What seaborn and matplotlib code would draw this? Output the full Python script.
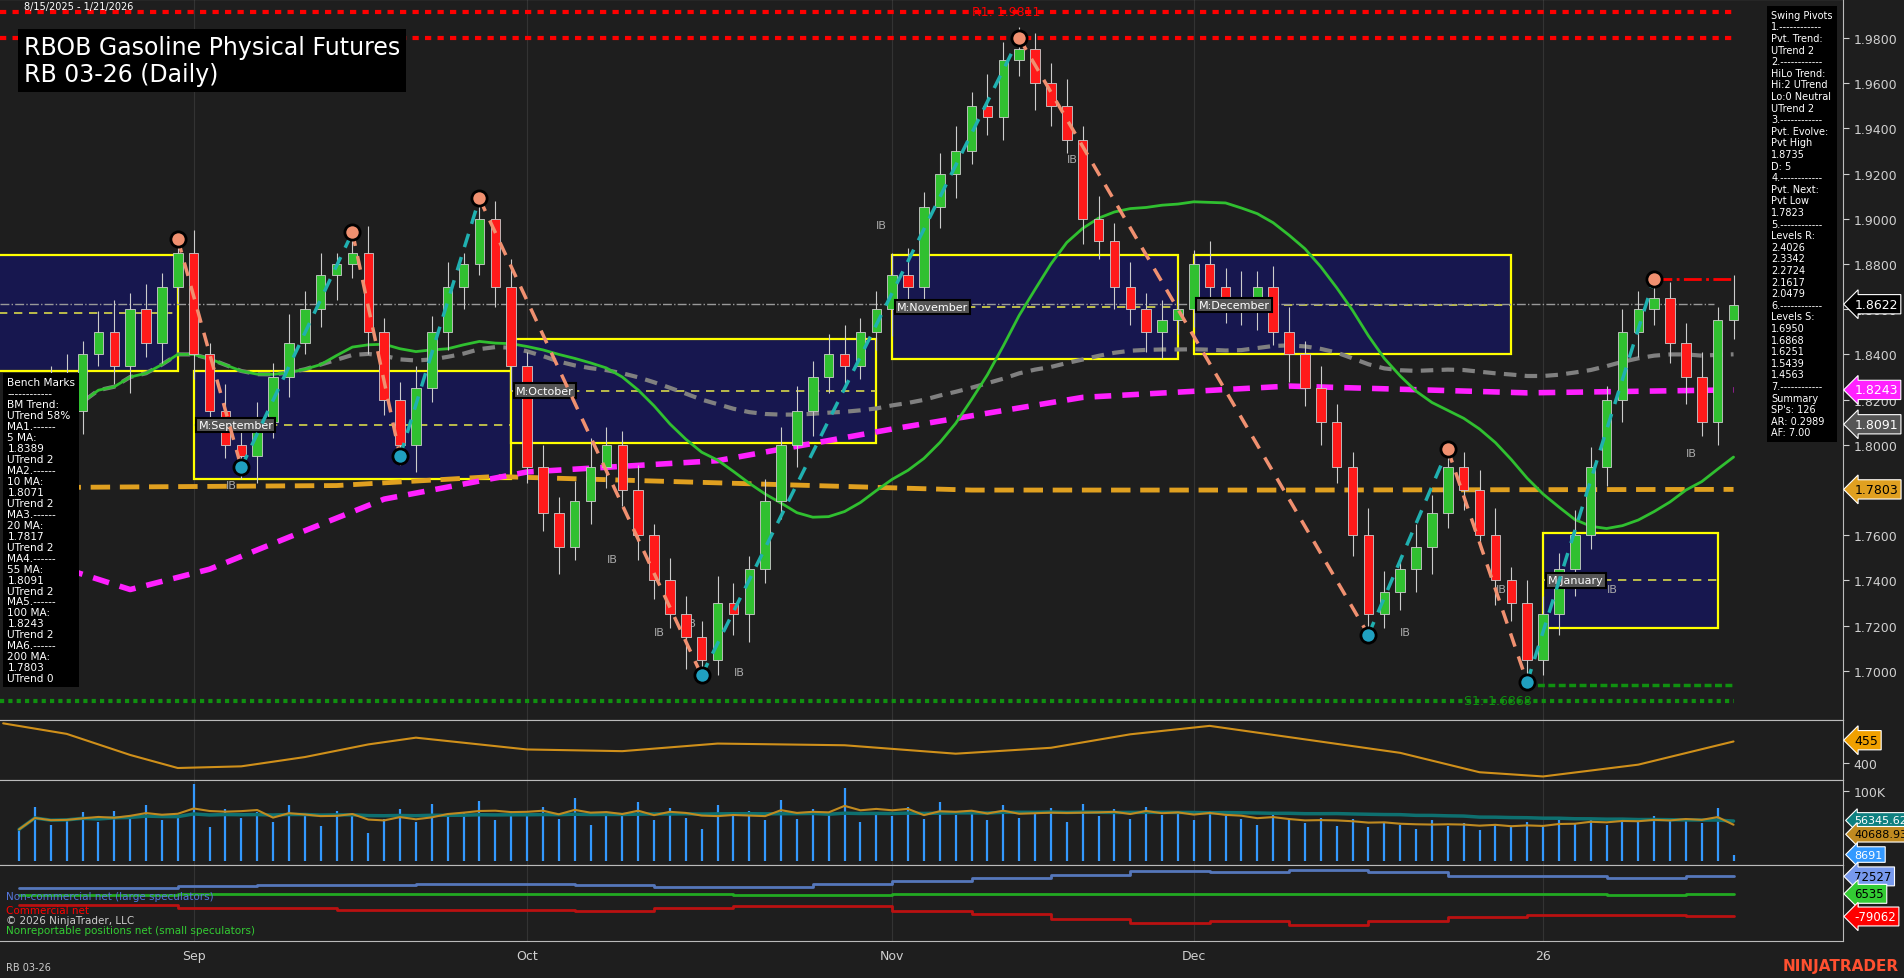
import matplotlib
matplotlib.use("Agg")
import matplotlib.pyplot as plt
import seaborn as sns
import pandas as pd
import numpy as np
from matplotlib.patches import Rectangle

# ---- data ----
closes = [1.800, 1.810, 1.830, 1.815, 1.840, 1.850, 1.835, 1.860, 1.845, 1.870, 1.885,
          1.840, 1.815, 1.800, 1.795, 1.810, 1.830, 1.845, 1.860, 1.875, 1.880, 1.885,
          1.850, 1.820, 1.800, 1.825, 1.850, 1.870, 1.880, 1.900, 1.870, 1.835,
          1.790, 1.770, 1.755, 1.775, 1.790, 1.800, 1.780, 1.760, 1.740, 1.725, 1.715,
          1.705, 1.730, 1.725, 1.745, 1.775, 1.800, 1.815, 1.830, 1.840, 1.835, 1.850, 1.860,
          1.875, 1.870, 1.905, 1.920, 1.930, 1.950, 1.945, 1.970, 1.975, 1.960, 1.950,
          1.935, 1.900, 1.890, 1.870, 1.860, 1.850, 1.855, 1.860,
          1.880, 1.870, 1.865, 1.860, 1.870, 1.850, 1.840, 1.825, 1.810, 1.790, 1.760,
          1.725, 1.735, 1.745, 1.755, 1.770, 1.790, 1.780, 1.760, 1.740, 1.730, 1.705,
          1.725, 1.745, 1.760, 1.790, 1.820, 1.850, 1.860, 1.865, 1.845, 1.830, 1.810, 1.855, 1.862]
first_open = 1.790
wick_hi = [8, 12, 5, 10, 6, 9, 14, 7, 11, 6, 8, 10, 5, 12, 7, 9, 6, 13, 8, 10, 5, 9,
           12, 6, 8, 10, 7, 11, 5, 9, 8, 12, 6, 10, 7, 9, 13, 8, 6, 11, 5, 10, 8, 7,
           12, 9, 6, 10, 8, 11, 7, 9, 13, 6, 8, 10, 12, 7, 9, 11, 6, 14, 8, 10, 7, 9,
           12, 6, 10, 8, 11, 7, 9, 13, 6, 10, 8, 12, 7, 9, 11, 6, 10, 8, 7, 12, 9, 6,
           10, 8, 11, 7, 9, 12, 6, 10, 8, 7, 11, 9, 6, 10, 8, 12, 7, 9, 11, 6, 13]
wick_lo = [6, 9, 11, 7, 10, 5, 8, 12, 6, 9, 7, 11, 8, 6, 10, 12, 7, 9, 5, 8, 11, 6,
           10, 7, 9, 12, 6, 8, 10, 5, 9, 11, 7, 8, 12, 6, 10, 9, 7, 11, 8, 6, 14, 10,
           7, 9, 12, 6, 8, 10, 11, 7, 9, 6, 8, 12, 10, 7, 9, 11, 6, 8, 10, 7, 12, 9,
           6, 11, 8, 10, 7, 9, 12, 6, 8, 10, 11, 7, 9, 6, 12, 8, 10, 7, 9, 11, 6, 8,
           10, 12, 7, 9, 6, 11, 8, 10, 7, 9, 12, 6, 8, 10, 11, 7, 9, 12, 6, 10, 8]
month_ticks = [11, 32, 55, 74, 96]
month_labels = ["Sep", "Oct", "Nov", "Dec", "26"]

pivot_idx = [10, 14, 21, 24, 29, 43, 63, 85, 90, 95, 103]
pivot_px = [1.891, 1.790, 1.894, 1.795, 1.909, 1.698, 1.980, 1.716, 1.798, 1.695, 1.8735]

ma100_idx = [3, 7, 12, 18, 23, 32, 44, 55, 67, 80, 95, 108]
ma100_val = [1.745, 1.736, 1.745, 1.762, 1.776, 1.788, 1.793, 1.807, 1.821, 1.826, 1.823, 1.8243]
ma200_idx = [-1, 20, 30, 40, 60, 80, 108]
ma200_val = [1.781, 1.782, 1.786, 1.784, 1.780, 1.780, 1.7803]

# monthly boxes: start, end, low, high
box_start = [-2, 11, 31, 55, 74, 96]
box_end = [10, 31, 54, 73, 94, 107]
box_low = [1.8325, 1.785, 1.801, 1.838, 1.840, 1.719]
box_high = [1.884, 1.8325, 1.847, 1.884, 1.884, 1.761]
box_names = ["", "M:September", "M:October", "M:November", "M:December", "M:January"]

osc_idx = [-1, 3, 7, 10, 14, 18, 22, 25, 29, 32, 38, 44, 52, 59, 65, 70, 75, 81, 87, 92, 96, 102, 108]
osc_val = [495, 470, 420, 389, 393, 415, 445, 461, 445, 433, 429, 447, 443, 423, 437, 469, 489, 457, 425, 379, 369, 397, 452]

volume_k = [45, 78, 52, 60, 70, 55, 72, 66, 80, 58, 62, 110, 48, 75, 62, 70, 55, 80, 66, 50, 72, 68,
            40, 60, 74, 56, 82, 64, 70, 86, 58, 72, 66, 78, 60, 90, 52, 70, 64, 84, 58, 76,
            62, 45, 80, 66, 72, 58, 88, 60, 74, 68, 105, 56, 70, 64, 78, 60, 84, 66, 72, 58,
            80, 62, 70, 76, 56, 82, 64, 74, 60, 78, 66, 70, 58, 72, 64, 60, 52, 66, 58, 54,
            62, 50, 60, 48, 56, 52, 46, 58, 50, 54, 44, 52, 48, 56, 50, 58, 54, 62, 52, 60,
            56, 64, 58, 62, 54, 76, 8.7]

cot_idx = [0, 5, 10, 15, 20, 25, 30, 35, 40, 45, 50, 55, 60, 65, 70, 75, 80, 85, 90, 95, 100, 105, 108]
cot_large = [29, 29, 35, 41, 41, 45, 45, 41, 32, 32, 45, 54, 66, 79, 92, 88, 98, 88, 73, 73, 66, 72.5, 72.5]
cot_small = [4, 4, 6.5, 6.5, 6.5, 6.5, 6.5, 5, 5, 3, 3, 6.5, 6.5, 6.5, 6.5, 5, 6.5, 6.5, 5, 5, 3, 6.5, 6.5]
cot_comm = [-36, -36, -46, -46, -53, -56, -53, -59, -46, -40, -40, -59, -68, -88, -103, -97, -112, -97, -82, -75, -75, -79, -79]

# ---- derived frame ----
n = len(closes)
df = pd.DataFrame({"idx": np.arange(n), "close": closes})
df["open"] = [first_open] + closes[:-1]
df["high"] = df[["open", "close"]].max(axis=1) + np.array(wick_hi) / 1000
df["low"] = df[["open", "close"]].min(axis=1) - np.array(wick_lo) / 1000
df["ma20"] = df["close"].rolling(20, min_periods=1).mean()
df["ma55"] = df["close"].rolling(55, min_periods=1).mean()
df["vol"] = np.array(volume_k) * 1000
df["vma"] = df["vol"].rolling(5, min_periods=1).mean()
df["vma2"] = df["vol"].rolling(40, min_periods=1).mean()

BG = "#1e1e1e"
sns.set_style("dark", {"axes.facecolor": BG, "figure.facecolor": BG})
plt.rcParams["font.family"] = ["DejaVu Sans"]
TXT = "#d0d0d0"

fig = plt.figure(figsize=(19.04, 9.79), dpi=100)
W = 0.968
ax = fig.add_axes([0, 0.264, W, 0.736])
ax2 = fig.add_axes([0, 0.202, W, 0.062], sharex=ax)
ax3 = fig.add_axes([0, 0.115, W, 0.087], sharex=ax)
ax4 = fig.add_axes([0, 0.038, W, 0.077], sharex=ax)
XL = (-1.2, 114.9)

for a in (ax, ax2, ax3, ax4):
    a.set_facecolor(BG)
    a.yaxis.tick_right()
    a.tick_params(colors=TXT, labelsize=9, length=4)
    for s in a.spines.values():
        s.set_color("#bbbbbb")
    a.spines["left"].set_visible(False)
    for t in month_ticks:
        a.axvline(t, color="#333333", lw=0.8, zorder=0)
    a.tick_params(axis="x", labelbottom=False, length=0)

# ---- main price panel ----
ax.set_xlim(*XL)
ax.set_ylim(1.6785, 1.9972)
ax.set_yticks(np.arange(1.70, 1.99, 0.02))
ax.set_yticklabels([f"{v:.4f}" for v in np.arange(1.70, 1.99, 0.02)])

for i in range(len(box_start)):
    ax.add_patch(Rectangle((box_start[i], box_low[i]), box_end[i] - box_start[i], box_high[i] - box_low[i],
                           facecolor="#17174f", edgecolor="#ffff00", lw=1.6, zorder=1))
    mid = (box_low[i] + box_high[i]) / 2
    ax.hlines(mid, box_start[i], box_end[i], colors="#d8d84a", linestyles=(0, (5, 4)), lw=1.2, zorder=1)
    if box_names[i]:
        ax.text(box_start[i] + 0.3, mid, box_names[i], fontsize=8, color="white", va="center", zorder=6,
                bbox=dict(facecolor="#555555", edgecolor="black", lw=1.5, pad=1.5))

ax.axhline(1.8622, color="#999999", ls="-.", lw=1, xmax=0.93, zorder=2)
ax.hlines([1.9915, 1.980], -1.2, 108, colors="red", linestyles=(0, (1.5, 1.5)), lw=3, zorder=2)
ax.text(60, 1.9915, "R1: 1.9811", color="red", fontsize=9, va="center")
ax.hlines(1.6868, -1.2, 108, colors="#109010", linestyles=(0, (1, 1)), lw=3, zorder=2)
ax.hlines(1.694, 95, 108, colors="#109010", linestyles=(0, (2, 1)), lw=2.5, zorder=2)
ax.text(91, 1.6868, "S1: 1.6868", color="#109010", fontsize=9, va="center")
ax.hlines(1.8735, 103, 108, colors="red", linestyles="-.", lw=2, zorder=2)

sns.lineplot(x=ma200_idx, y=ma200_val, ax=ax, color="#e0a020", lw=3.5, zorder=3)
ax.lines[-1].set_linestyle((0, (4, 2)))
sns.lineplot(x=ma100_idx, y=ma100_val, ax=ax, color="#ff20ff", lw=4, zorder=3)
ax.lines[-1].set_linestyle((0, (3, 2)))
sns.lineplot(data=df, x="idx", y="ma55", ax=ax, color="#808080", lw=3, zorder=3)
ax.lines[-1].set_linestyle((0, (3, 2)))
sns.lineplot(data=df, x="idx", y="ma20", ax=ax, color="#30c030", lw=2, zorder=3)

up = df["close"] >= df["open"]
ax.vlines(df["idx"], df["low"], df["high"], colors="#cccccc", lw=0.8, zorder=4)
ax.bar(df["idx"][up], (df["close"] - df["open"])[up].clip(lower=0.002), bottom=df["open"][up],
       width=0.6, color="#30c030", edgecolor="#cccccc", lw=0.6, zorder=5)
ax.bar(df["idx"][~up], (df["open"] - df["close"])[~up], bottom=df["close"][~up],
       width=0.6, color="#ff1a1a", edgecolor="#cccccc", lw=0.6, zorder=5)

for k in range(len(pivot_idx) - 1):
    c = "#20b0b0" if pivot_px[k + 1] > pivot_px[k] else "#f09070"
    ax.plot(pivot_idx[k:k + 2], pivot_px[k:k + 2], color=c, lw=2.5, ls=(0, (4, 3)), zorder=6)
for k in range(len(pivot_idx)):
    hi = k % 2 == 0
    ax.scatter(pivot_idx[k], pivot_px[k], s=120, color="#f09070" if hi else "#20a0c0",
               edgecolor="black", lw=2, zorder=7)
for xi, yi in [(54, 1.896), (66, 1.925), (13, 1.781), (37, 1.748), (40, 1.716), (42, 1.720), (45, 1.698),
               (87, 1.716), (100, 1.735), (105, 1.795), (93, 1.735)]:
    ax.text(xi, yi, "IB", color="#aaaaaa", fontsize=8)

ax.text(0.3, 1.994, "8/15/2025 - 1/21/2026", fontsize=7, color="white", va="center")
ax.text(0.3, 1.970, "RBOB Gasoline Physical Futures\nRB 03-26 (Daily)", fontsize=17, color="white", va="center",
        linespacing=1.15, bbox=dict(facecolor="black", edgecolor="none", pad=4), zorder=10)

swing = ("Swing Pivots\n1.------------\nPvt. Trend:\nUTrend 2\n2.------------\nHiLo Trend:\nHi:2 UTrend\n"
         "Lo:0 Neutral\nUTrend 2\n3.------------\nPvt. Evolve:\nPvt High\n1.8735\nD: 5\n4.------------\n"
         "Pvt. Next:\nPvt Low\n1.7823\n5.------------\nLevels R:\n2.4026\n2.3342\n2.2724\n2.1617\n2.0479\n"
         "6.------------\nLevels S:\n1.6950\n1.6868\n1.6251\n1.5439\n1.4563\n7.------------\nSummary\n"
         "SP's: 126\nAR: 0.2989\nAF: 7.00")
ax.text(0.961, 0.985, swing, transform=ax.transAxes, fontsize=7.0, color="white", va="top", linespacing=1.2,
        bbox=dict(facecolor="black", edgecolor="none", pad=3), zorder=10)
bench = ("Bench Marks\n------------\nBM Trend:\nUTrend 58%\nMA1.------\n5 MA:\n1.8389\nUTrend 2\nMA2.------\n"
         "10 MA:\n1.8071\nUTrend 2\nMA3.------\n20 MA:\n1.7817\nUTrend 2\nMA4.------\n55 MA:\n1.8091\n"
         "UTrend 2\nMA5.------\n100 MA:\n1.8243\nUTrend 2\nMA6.------\n200 MA:\n1.7803\nUTrend 0")
ax.text(0.004, 0.475, bench, transform=ax.transAxes, fontsize=7.6, color="white", va="top", linespacing=1.12,
        bbox=dict(facecolor="black", edgecolor="none", pad=3), zorder=10)

def tag(a, y, txt, fc, tc="black", fs=9):
    a.annotate(txt, xy=(1.0, y), xycoords=("axes fraction", "data"), xytext=(8, 0), textcoords="offset points",
               fontsize=fs, color=tc, va="center", ha="left", annotation_clip=False,
               bbox=dict(boxstyle="larrow,pad=0.25", facecolor=fc, edgecolor="white", lw=0.8))

tag(ax, 1.8622, "1.8622", "black", "white")
tag(ax, 1.8243, "1.8243", "#ff20ff", "white")
tag(ax, 1.8091, "1.8091", "#555555", "white")
tag(ax, 1.7803, "1.7803", "#e0a020")

# ---- oscillator panel ----
ax2.set_ylim(360, 504)
ax2.set_yticks([400])
sns.lineplot(x=osc_idx, y=osc_val, ax=ax2, color="#d0901a", lw=1.5)
tag(ax2, 455, "455", "#f0a000")

# ---- volume panel ----
ax3.set_ylim(-7000, 116000)
ax3.set_yticks([100000])
ax3.set_yticklabels(["100K"])
ax3.vlines(df["idx"], 0, df["vol"], colors="#3399ff", lw=1.6)
sns.lineplot(data=df, x="idx", y="vma2", ax=ax3, color="#0e7070", lw=2.5)
sns.lineplot(data=df, x="idx", y="vma", ax=ax3, color="#c08a20", lw=1.5)
tag(ax3, 58000, "56345.62", "#0e8080", "white", 8)
tag(ax3, 38000, "40688.93", "#c08a20", "black", 8)
tag(ax3, 8691, "8691", "#3399ff", "white", 8)

# ---- COT panel ----
ax4.set_ylim(-171000, 114000)
ax4.set_yticks([])
ax4.step(cot_idx, np.array(cot_large) * 1000, where="post", color="#5577bb", lw=2)
ax4.step(cot_idx, np.array(cot_small) * 1000, where="post", color="#22aa22", lw=2)
ax4.step(cot_idx, np.array(cot_comm) * 1000, where="post", color="#bb1111", lw=2)
tag(ax4, 72527, "72527", "#7799ee", "black", 8.5)
tag(ax4, 6535, "6535", "#33cc33", "black", 8.5)
tag(ax4, -79062, "-79062", "red", "white", 8.5)
ax4.text(0.003, 0.55, "Non-commercial net (large speculators)", transform=ax4.transAxes,
         fontsize=7.5, color="#5577dd")
ax4.text(0.003, 0.37, "Commercial net", transform=ax4.transAxes, fontsize=7.5, color="red")
ax4.text(0.003, 0.24, "© 2026 NinjaTrader, LLC", transform=ax4.transAxes, fontsize=7.5, color="#cccccc")
ax4.text(0.003, 0.11, "Nonreportable positions net (small speculators)", transform=ax4.transAxes,
         fontsize=7.5, color="#33cc33")
ax4.tick_params(axis="x", labelbottom=True, length=0, pad=6)
ax4.set_xticks(month_ticks)
ax4.set_xticklabels(month_labels)
for a in (ax, ax2, ax3, ax4):
    a.set_xlabel("")
    a.set_ylabel("")

fig.text(0.003, 0.008, "RB 03-26", fontsize=7, color="#cccccc")
fig.text(0.997, 0.008, "NINJATRADER", fontsize=11, color="#ff5030", ha="right", weight="bold")

fig.savefig("out.png", dpi=100, facecolor=BG)
